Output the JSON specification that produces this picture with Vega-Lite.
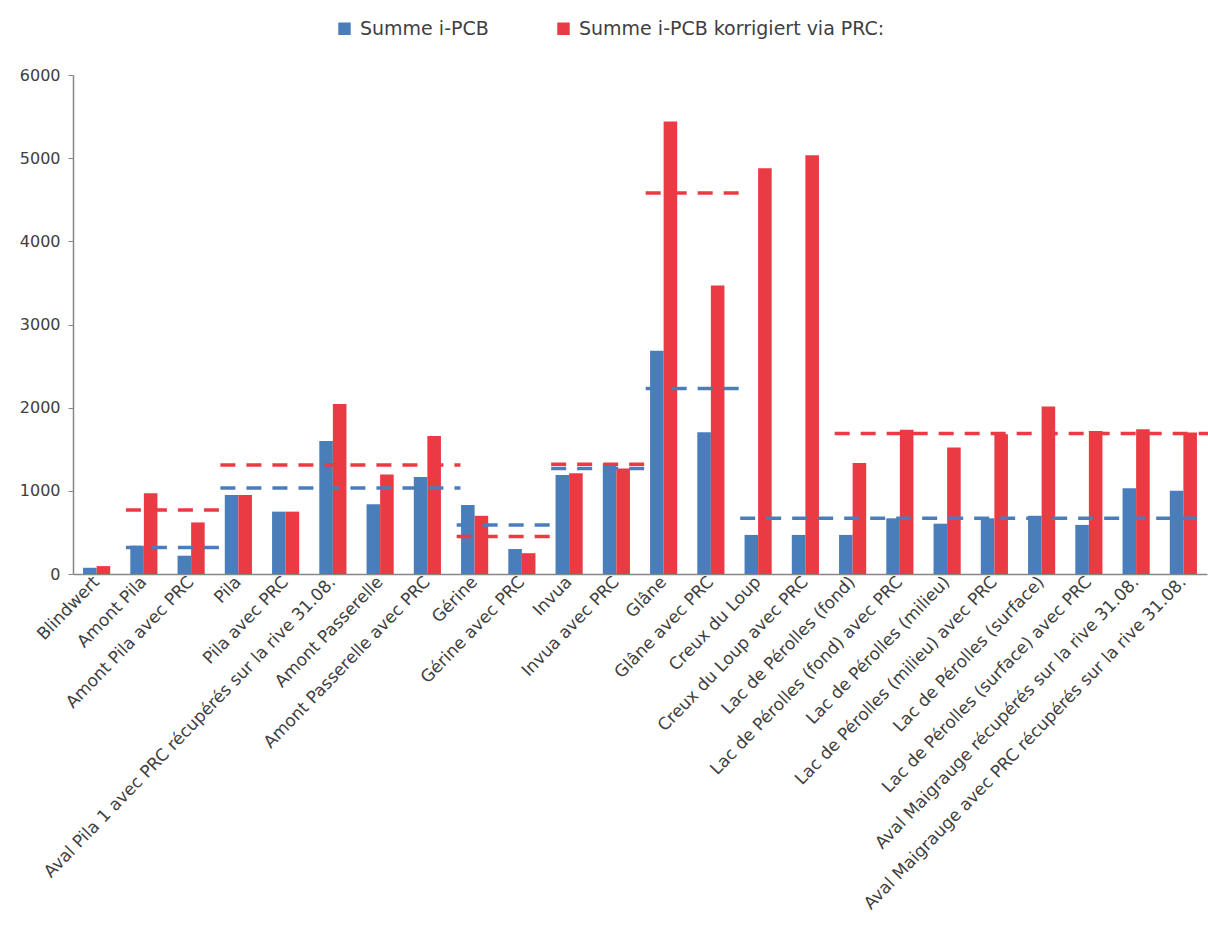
{
  "$schema": "https://vega.github.io/schema/vega-lite/v6.json",
  "autosize": "none",
  "width": 1134,
  "height": 499,
  "padding": {"left": 73, "top": 75, "right": 1, "bottom": 357},
  "background": "white",
  "config": {
    "view": {"stroke": null},
    "font": "DejaVu Sans"
  },
  "datasets": {
    "bars": [
      {"site": "Blindwert", "series": "Summe i-PCB", "value": 75},
      {"site": "Blindwert", "series": "Summe i-PCB korrigiert via PRC:", "value": 95},
      {"site": "Amont Pila", "series": "Summe i-PCB", "value": 340},
      {"site": "Amont Pila", "series": "Summe i-PCB korrigiert via PRC:", "value": 970},
      {"site": "Amont Pila avec PRC", "series": "Summe i-PCB", "value": 220},
      {"site": "Amont Pila avec PRC", "series": "Summe i-PCB korrigiert via PRC:", "value": 620},
      {"site": "Pila", "series": "Summe i-PCB", "value": 950},
      {"site": "Pila", "series": "Summe i-PCB korrigiert via PRC:", "value": 950},
      {"site": "Pila avec PRC", "series": "Summe i-PCB", "value": 750},
      {"site": "Pila avec PRC", "series": "Summe i-PCB korrigiert via PRC:", "value": 750},
      {"site": "Aval Pila 1 avec PRC récupérés sur la rive 31.08.", "series": "Summe i-PCB", "value": 1600},
      {"site": "Aval Pila 1 avec PRC récupérés sur la rive 31.08.", "series": "Summe i-PCB korrigiert via PRC:", "value": 2045},
      {"site": "Amont Passerelle", "series": "Summe i-PCB", "value": 840},
      {"site": "Amont Passerelle", "series": "Summe i-PCB korrigiert via PRC:", "value": 1195},
      {"site": "Amont Passerelle avec PRC", "series": "Summe i-PCB", "value": 1165},
      {"site": "Amont Passerelle avec PRC", "series": "Summe i-PCB korrigiert via PRC:", "value": 1660},
      {"site": "Gérine", "series": "Summe i-PCB", "value": 830},
      {"site": "Gérine", "series": "Summe i-PCB korrigiert via PRC:", "value": 700},
      {"site": "Gérine avec PRC", "series": "Summe i-PCB", "value": 300},
      {"site": "Gérine avec PRC", "series": "Summe i-PCB korrigiert via PRC:", "value": 250},
      {"site": "Invua", "series": "Summe i-PCB", "value": 1190},
      {"site": "Invua", "series": "Summe i-PCB korrigiert via PRC:", "value": 1210},
      {"site": "Invua avec PRC", "series": "Summe i-PCB", "value": 1325},
      {"site": "Invua avec PRC", "series": "Summe i-PCB korrigiert via PRC:", "value": 1270},
      {"site": "Glâne", "series": "Summe i-PCB", "value": 2685},
      {"site": "Glâne", "series": "Summe i-PCB korrigiert via PRC:", "value": 5440},
      {"site": "Glâne avec PRC", "series": "Summe i-PCB", "value": 1705},
      {"site": "Glâne avec PRC", "series": "Summe i-PCB korrigiert via PRC:", "value": 3470},
      {"site": "Creux du Loup", "series": "Summe i-PCB", "value": 470},
      {"site": "Creux du Loup", "series": "Summe i-PCB korrigiert via PRC:", "value": 4880},
      {"site": "Creux du Loup avec PRC", "series": "Summe i-PCB", "value": 470},
      {"site": "Creux du Loup avec PRC", "series": "Summe i-PCB korrigiert via PRC:", "value": 5035},
      {"site": "Lac de Pérolles (fond)", "series": "Summe i-PCB", "value": 470},
      {"site": "Lac de Pérolles (fond)", "series": "Summe i-PCB korrigiert via PRC:", "value": 1335},
      {"site": "Lac de Pérolles (fond) avec PRC", "series": "Summe i-PCB", "value": 670},
      {"site": "Lac de Pérolles (fond) avec PRC", "series": "Summe i-PCB korrigiert via PRC:", "value": 1735},
      {"site": "Lac de Pérolles (milieu)", "series": "Summe i-PCB", "value": 605},
      {"site": "Lac de Pérolles (milieu)", "series": "Summe i-PCB korrigiert via PRC:", "value": 1520},
      {"site": "Lac de Pérolles (milieu) avec PRC", "series": "Summe i-PCB", "value": 670},
      {"site": "Lac de Pérolles (milieu) avec PRC", "series": "Summe i-PCB korrigiert via PRC:", "value": 1680},
      {"site": "Lac de Pérolles (surface)", "series": "Summe i-PCB", "value": 700},
      {"site": "Lac de Pérolles (surface)", "series": "Summe i-PCB korrigiert via PRC:", "value": 2015},
      {"site": "Lac de Pérolles (surface) avec PRC", "series": "Summe i-PCB", "value": 590},
      {"site": "Lac de Pérolles (surface) avec PRC", "series": "Summe i-PCB korrigiert via PRC:", "value": 1720},
      {"site": "Aval Maigrauge récupérés sur la rive 31.08.", "series": "Summe i-PCB", "value": 1030},
      {"site": "Aval Maigrauge récupérés sur la rive 31.08.", "series": "Summe i-PCB korrigiert via PRC:", "value": 1740},
      {"site": "Aval Maigrauge avec PRC récupérés sur la rive 31.08.", "series": "Summe i-PCB", "value": 1000},
      {"site": "Aval Maigrauge avec PRC récupérés sur la rive 31.08.", "series": "Summe i-PCB korrigiert via PRC:", "value": 1700}
    ],
    "means": [
      {"from": "Amont Pila", "to": "Amont Pila avec PRC", "series": "Summe i-PCB", "value": 320},
      {"from": "Amont Pila", "to": "Amont Pila avec PRC", "series": "Summe i-PCB korrigiert via PRC:", "value": 770},
      {"from": "Pila", "to": "Amont Passerelle avec PRC", "series": "Summe i-PCB", "value": 1035},
      {"from": "Pila", "to": "Amont Passerelle avec PRC", "series": "Summe i-PCB korrigiert via PRC:", "value": 1310},
      {"from": "Gérine", "to": "Gérine avec PRC", "series": "Summe i-PCB", "value": 590},
      {"from": "Gérine", "to": "Gérine avec PRC", "series": "Summe i-PCB korrigiert via PRC:", "value": 450},
      {"from": "Invua", "to": "Invua avec PRC", "series": "Summe i-PCB", "value": 1270},
      {"from": "Invua", "to": "Invua avec PRC", "series": "Summe i-PCB korrigiert via PRC:", "value": 1320},
      {"from": "Glâne", "to": "Glâne avec PRC", "series": "Summe i-PCB", "value": 2230},
      {"from": "Glâne", "to": "Glâne avec PRC", "series": "Summe i-PCB korrigiert via PRC:", "value": 4580},
      {"from": "Creux du Loup", "to": "Aval Maigrauge avec PRC récupérés sur la rive 31.08.", "series": "Summe i-PCB", "value": 670},
      {"from": "Lac de Pérolles (fond)", "to": "Aval Maigrauge avec PRC récupérés sur la rive 31.08.", "series": "Summe i-PCB korrigiert via PRC:", "value": 1690}
    ]
  },
  "layer": [
    {
      "data": {"name": "bars"},
      "mark": {"type": "bar"},
      "encoding": {
        "x": {
          "field": "site", "type": "nominal", "sort": null, "title": null,
          "scale": {"paddingInner": 0, "paddingOuter": 0},
          "axis": {
            "labelAngle": -46, "labelFont": "DejaVu Sans", "labelFontSize": 17,
            "labelColor": "#404040", "labelLimit": 700, "labelOverlap": false,
            "labelPadding": 5, "ticks": false, "domainColor": "#868686", "domainWidth": 1.5
          }
        },
        "xOffset": {"field": "series", "type": "nominal", "scale": {"paddingInner": 0, "paddingOuter": 0.74}},
        "y": {
          "field": "value", "type": "quantitative", "title": null,
          "scale": {"domain": [0, 6000], "nice": false},
          "axis": {
            "values": [0, 1000, 2000, 3000, 4000, 5000, 6000], "format": "d",
            "grid": false, "labelFontSize": 16, "labelColor": "#404040",
            "domainColor": "#868686", "domainWidth": 1.5, "tickColor": "#868686",
            "tickSize": 5, "labelPadding": 8
          }
        },
        "color": {
          "field": "series", "type": "nominal", "title": null,
          "scale": {"domain": ["Summe i-PCB", "Summe i-PCB korrigiert via PRC:"], "range": ["#4A7EBB", "#EA3A43"]},
          "legend": {
            "orient": "none", "direction": "horizontal", "legendX": 262, "legendY": -56,
            "symbolType": "square", "symbolSize": 120, "labelFontSize": 19, "labelLimit": 500,
            "labelColor": "#404040", "columnPadding": 65, "labelOffset": 6
          }
        }
      }
    },
    {
      "data": {"name": "means"},
      "mark": {"type": "rule", "strokeWidth": 3.5, "strokeDash": [15, 11]},
      "encoding": {
        "x": {"field": "from", "type": "nominal", "sort": null, "bandPosition": 0.12},
        "x2": {"field": "to", "bandPosition": 1.2},
        "y": {"field": "value", "type": "quantitative"},
        "color": {"field": "series", "type": "nominal"}
      }
    }
  ]
}
